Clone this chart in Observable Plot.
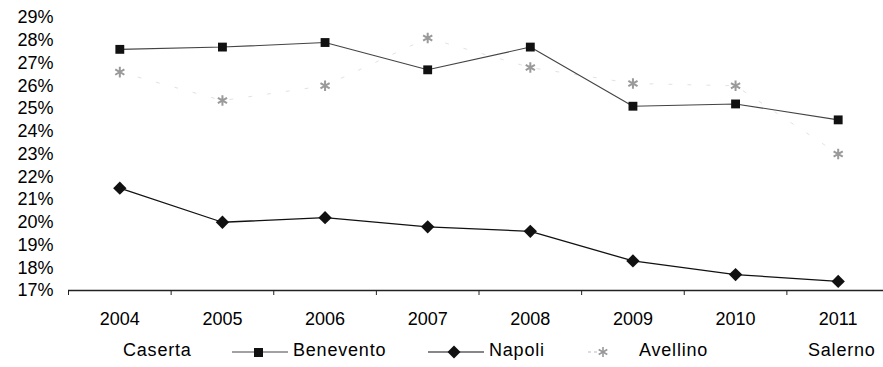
<!DOCTYPE html>
<html>
<head>
<meta charset="utf-8">
<script src="https://cdn.jsdelivr.net/npm/d3@7"></script>
<script src="https://cdn.jsdelivr.net/npm/@observablehq/plot@0.6"></script>
<style>
  body { margin: 0; background: #fff; }
  #wrap { position: relative; width: 883px; height: 367px; overflow: hidden; font-family: "Liberation Sans", Arial, sans-serif; }
  .lg { position: absolute; top: 340px; font-size: 18px; letter-spacing: 0.8px; color: #000; white-space: nowrap; }
  .sym { position: absolute; top: 344px; }
</style>
</head>
<body>
<div id="wrap"></div>
<script>
const years = [2004, 2005, 2006, 2007, 2008, 2009, 2010, 2011];
const benevento = [0.276, 0.277, 0.279, 0.267, 0.277, 0.251, 0.252, 0.245];
const napoli    = [0.215, 0.200, 0.202, 0.198, 0.196, 0.183, 0.177, 0.174];
const avellino  = [0.266, 0.2535, 0.260, 0.281, 0.268, 0.261, 0.260, 0.230];
const yTicks = [0.17, 0.18, 0.19, 0.20, 0.21, 0.22, 0.23, 0.24, 0.25, 0.26, 0.27, 0.28, 0.29];
const seriesNames = ["Caserta", "Benevento", "Napoli", "Avellino", "Salerno"];

const ben = years.map((y, i) => ({year: y, v: benevento[i]}));
const nap = years.map((y, i) => ({year: y, v: napoli[i]}));
const ave = years.map((y, i) => ({year: y, v: avellino[i]}));
const bounds = [years[0] - 0.5, ...years.map(y => y + 0.5)];

const chart = Plot.plot({
  width: 883,
  height: 335,
  marginTop: 17,
  marginBottom: 45,
  marginLeft: 68,
  marginRight: 0,
  style: {fontFamily: "'Liberation Sans', Arial, sans-serif", fontSize: "18px", color: "#000", background: "#fff", overflow: "visible"},
  x: {domain: [2003.5, 2011.5], range: [68, 889]},
  y: {domain: [0.17, 0.29], range: [290, 17]},
  marks: [
    Plot.axisY({ticks: yTicks, tickSize: 0, tickPadding: 15, tickFormat: d => Math.round(d * 100) + "%", label: null, fontSize: 18, style: {letterSpacing: "0.5px"}}),
    Plot.axisX({ticks: bounds, tickSize: 5, tickFormat: () => "", label: null, stroke: "#222"}),
    Plot.axisX({ticks: years, tickSize: 0, tickPadding: 22, tickFormat: d => String(d), label: null, fontSize: 18, style: {letterSpacing: "0.8px"}}),
    Plot.ruleY([0.17], {stroke: "#222", strokeWidth: 1.3}),
    Plot.line(ave, {x: "year", y: "v", stroke: "#e2e2e2", strokeWidth: 1, strokeDasharray: "3,16"}),
    Plot.dot(ave, {x: "year", y: "v", symbol: "asterisk", r: 5, stroke: "#9a9a9a", strokeWidth: 2}),
    Plot.line(ben, {x: "year", y: "v", stroke: "#444", strokeWidth: 1.1}),
    Plot.dot(ben, {x: "year", y: "v", symbol: "square", r: 5, fill: "#111", stroke: "none"}),
    Plot.line(nap, {x: "year", y: "v", stroke: "#111", strokeWidth: 1.3}),
    Plot.dot(nap, {x: "year", y: "v", symbol: "diamond2", r: 6, fill: "#111", stroke: "none"})
  ]
});
const wrap = document.getElementById("wrap");
wrap.appendChild(chart);

function addText(txt, left) {
  const s = document.createElement("span");
  s.className = "lg"; s.textContent = txt; s.style.left = left + "px";
  wrap.appendChild(s);
}
function addSym(left, w, inner) {
  const d = document.createElement("div");
  d.className = "sym"; d.style.left = left + "px";
  d.innerHTML = `<svg width="${w}" height="16" viewBox="0 0 ${w} 16">${inner}</svg>`;
  wrap.appendChild(d);
}
addText(seriesNames[0], 123);
addSym(232, 56, `<line x1="0" y1="8" x2="56" y2="8" stroke="#444" stroke-width="1"/><rect x="22" y="4" width="9" height="9" fill="#111"/>`);
addText(seriesNames[1], 293);
addSym(428, 56, `<line x1="0" y1="8" x2="56" y2="8" stroke="#111" stroke-width="1.2"/><path d="M26 1.5 L32.5 8 L26 14.5 L19.5 8 Z" fill="#111"/>`);
addText(seriesNames[2], 489);
addSym(588, 24, `<line x1="0" y1="8" x2="10" y2="8" stroke="#bbb" stroke-width="1" stroke-dasharray="3,3"/><g stroke="#999" stroke-width="1.6"><line x1="15" y1="3" x2="15" y2="13"/><line x1="10.7" y1="5.5" x2="19.3" y2="10.5"/><line x1="10.7" y1="10.5" x2="19.3" y2="5.5"/></g>`);
addText(seriesNames[3], 639);
addText(seriesNames[4], 808);
</script>
</body>
</html>
